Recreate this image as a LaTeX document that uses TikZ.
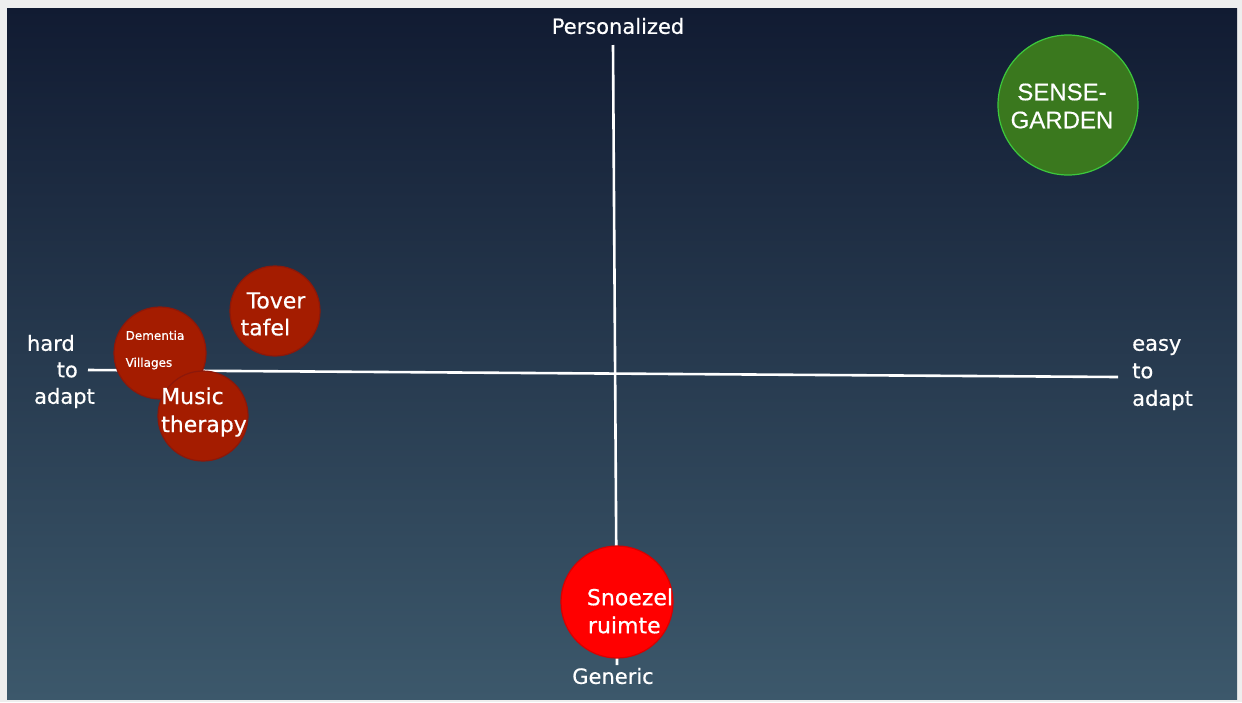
\documentclass[tikz,border=0pt]{standalone}
\usepackage{fontspec}
\setmainfont{DejaVu Sans}[UprightFeatures={FakeBold=0.5}]
\newfontfamily\arialfont{Liberation Sans}[UprightFeatures={FakeBold=0.3}]
\begin{document}
\begin{tikzpicture}[x=1pt,y=-1pt,
  axis/.style={draw=white,line width=2.6pt},
  lbl/.style={text=white,inner sep=0pt,font=\fontsize{21}{23}\selectfont},
  bubble/.style={circle,inner sep=0pt,line width=1.2pt},
  redbubble/.style={bubble,fill=redfill,draw=redline},
  btext/.style={text=white,inner sep=0pt,font=\fontsize{22}{28}\selectfont}]
  \definecolor{bgtop}{RGB}{17,27,50}
  \definecolor{bgbot}{RGB}{60,88,107}
  \definecolor{gardenfill}{RGB}{58,120,30}
  \definecolor{gardenline}{RGB}{60,200,60}
  \definecolor{framegray}{RGB}{238,238,238}
  \definecolor{redfill}{RGB}{164,28,0}
  \definecolor{redline}{RGB}{140,24,10}
  % page frame and slide background
  \fill[framegray] (0,0) rectangle (1242,702);
  \shade[top color=bgtop,bottom color=bgbot] (7,8) rectangle (1237,699);
  \useasboundingbox (0,0) rectangle (1242,702);

  % axes
  \coordinate (ytop) at (613,45);
  \coordinate (ybot) at (617,665);
  \coordinate (xleft) at (88,370);
  \coordinate (xright) at (1118,377);
  \draw[axis] (ytop) -- (ybot);
  \draw[axis] (xleft) -- (xright);

  % axis labels
  \node[lbl] (pers) at (618,26) {Personalized};
  \node[lbl] (gen) at (613,676) {Generic};
  \node[lbl,anchor=east] (hard) at (75,343) {hard};
  \node[lbl,anchor=east] (hto) at (78,370) {to};
  \node[lbl,anchor=east] (hadapt) at (95,398) {adapt};
  \node[lbl,anchor=west] (easy) at (1132,347) {easy};
  \node[lbl,anchor=west] (eto) at (1132,371) {to};
  \node[lbl,anchor=west] (eadapt) at (1132,400) {adapt};

  % bubbles
  \node[bubble,fill=gardenfill,draw=gardenline,minimum size=140pt] (garden) at (1068,105) {};
  \node[text=white,inner sep=0pt,font=\arialfont\fontsize{24}{28}\selectfont,align=center] (gardent) at (1062,106) {SENSE-\\GARDEN};

  \node[redbubble,minimum size=90pt] (tover) at (275,311) {};
  \node[btext,font=\fontsize{22}{27}\selectfont,align=left] (tovert) at (273,314) {\hspace*{6pt}Tover\\tafel};

  \node[redbubble,minimum size=92pt] (dem) at (160,353) {};
  \node[text=white,inner sep=0pt,font=\fontsize{12}{27}\selectfont,align=left] (demt) at (155,350) {Dementia\\Villages};

  \node[redbubble,minimum size=90pt] (music) at (203,416) {};
  \node[btext,align=left] (musict) at (204,412) {Music\\therapy};

  \node[bubble,fill=red,draw=red!85!black,minimum size=112pt] (snoe) at (617,602) {};
  \node[btext,align=left] (snoet) at (630,611) {Snoezel\\\hspace*{1pt}ruimte};
\end{tikzpicture}
\end{document}
